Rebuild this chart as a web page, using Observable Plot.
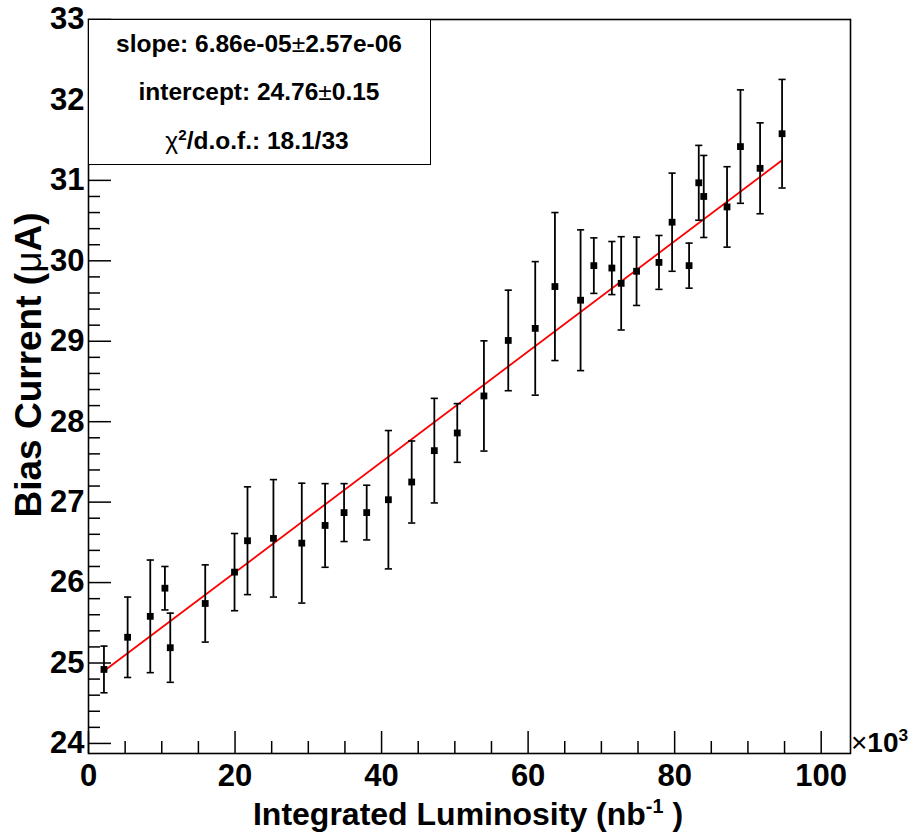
<!DOCTYPE html>
<html>
<head>
<meta charset="utf-8">
<script src="https://cdn.jsdelivr.net/npm/d3@7"></script>
<script src="https://cdn.jsdelivr.net/npm/@observablehq/plot@0.6"></script>
<style>
  html, body { margin: 0; padding: 0; background: #fff; }
  #wrap { position: relative; width: 922px; height: 833px; font-family: "Liberation Sans", Arial, Helvetica, sans-serif; font-weight: bold; color: #000; }
  #wrap svg { position: absolute; left: 0; top: 0; }
  .ov { position: absolute; white-space: nowrap; line-height: 1; }
  .n { font-weight: normal; }
  sup { font-size: 0.62em; line-height: 1; vertical-align: 0; position: relative; top: -0.62em; }
</style>
</head>
<body>
<div id="wrap"></div>
<script>
// ---- data ----
const lumi = [2.11, 5.34, 8.43, 10.43, 11.16, 15.93, 19.93, 21.7, 25.24, 29.11, 32.29, 34.88, 37.97, 40.93, 44.11, 47.2, 50.33, 53.97, 57.29, 60.97, 63.66, 67.16, 68.97, 71.43, 72.7, 74.8, 77.86, 79.65, 81.97, 83.29, 83.97, 87.15, 88.98, 91.66, 94.66];
const current = [24.92, 25.32, 25.58, 25.93, 25.19, 25.74, 26.13, 26.52, 26.55, 26.49, 26.71, 26.87, 26.87, 27.03, 27.25, 27.64, 27.86, 28.32, 29.01, 29.16, 29.68, 29.51, 29.94, 29.91, 29.72, 29.87, 29.98, 30.48, 29.94, 30.97, 30.80, 30.67, 31.42, 31.15, 31.58];
const currentErr = [0.29, 0.50, 0.70, 0.27, 0.43, 0.48, 0.48, 0.67, 0.73, 0.745, 0.52, 0.36, 0.34, 0.86, 0.51, 0.65, 0.365, 0.685, 0.625, 0.83, 0.92, 0.875, 0.345, 0.33, 0.58, 0.425, 0.335, 0.61, 0.28, 0.465, 0.51, 0.50, 0.705, 0.565, 0.675];
const fitX = [2.11, 94.66];
const fitY = [24.90, 31.25];
const xMajorTicks = [0, 20, 40, 60, 80, 100];
const xMinorTicks = [5, 10, 15, 25, 30, 35, 45, 50, 55, 65, 70, 75, 85, 90, 95];
const yMajorTicks = [24, 25, 26, 27, 28, 29, 30, 31, 32, 33];
const yMinorTicks = d3.range(24, 33.001, 0.2).map(v => +v.toFixed(1)).filter(v => !Number.isInteger(v));
const statsLines = ["slope: 6.86e-05", "±", "2.57e-06", "intercept: 24.76", "±", "0.15", "/d.o.f.: 18.1/33"];

const points = lumi.map((x, i) => ({x, y: current[i], lo: current[i] - currentErr[i], hi: current[i] + currentErr[i]}));
const fit = fitX.map((x, i) => ({x, y: fitY[i]}));

const W = 922, H = 833, mT = 19, mB = 80, mL = 88, mR = 72;
const innerH = H - mT - mB, innerW = W - mL - mR;

const capSymbol = { draw(ctx) { ctx.moveTo(-3.6, 0); ctx.lineTo(3.6, 0); } };
const sqSymbol = { draw(ctx) { ctx.rect(-3.4, -3.4, 6.8, 6.8); } };

const chart = Plot.plot({
  width: W, height: H,
  marginTop: mT, marginBottom: mB, marginLeft: mL, marginRight: mR,
  style: { fontFamily: '"Liberation Sans", Arial, sans-serif', fontWeight: "bold", background: "white", color: "black" },
  x: { domain: [0, 104] },
  y: { domain: [23.875, 33] },
  marks: [
    // tick marks drawn inside the frame
    Plot.ruleX(xMajorTicks, { x: d => d, insetTop: innerH - 22, stroke: "black", strokeWidth: 1.5 }),
    Plot.ruleX(xMinorTicks, { x: d => d, insetTop: innerH - 12, stroke: "black", strokeWidth: 1.5 }),
    Plot.ruleY(yMajorTicks, { y: d => d, insetRight: innerW - 23, stroke: "black", strokeWidth: 1.5 }),
    Plot.ruleY(yMinorTicks, { y: d => d, insetRight: innerW - 12, stroke: "black", strokeWidth: 1.5 }),
    Plot.axisX({ ticks: xMajorTicks, tickSize: 0, tickPadding: 10, fontSize: 31, fontWeight: "bold", label: null, tickFormat: d => d }),
    Plot.axisY({ ticks: yMajorTicks, tickSize: 0, tickPadding: 4, fontSize: 31, fontWeight: "bold", label: null, tickFormat: d => d }),
    Plot.frame({ stroke: "black", strokeWidth: 1.6 }),
    // fit line
    Plot.line(fit, { x: "x", y: "y", stroke: "#ff0000", strokeWidth: 1.8 }),
    // error bars
    Plot.ruleX(points, { x: "x", y1: "lo", y2: "hi", stroke: "black", strokeWidth: 1.8 }),
    Plot.dot(points, { x: "x", y: "lo", symbol: capSymbol, stroke: "black", strokeWidth: 1.6, fill: "none" }),
    Plot.dot(points, { x: "x", y: "hi", symbol: capSymbol, stroke: "black", strokeWidth: 1.6, fill: "none" }),
    Plot.dot(points, { x: "x", y: "y", symbol: sqSymbol, fill: "black", stroke: "none" })
  ]
});

const wrap = document.getElementById("wrap");
wrap.appendChild(chart);

function ov(html, css) {
  const d = document.createElement("div");
  d.className = "ov";
  d.innerHTML = html;
  Object.assign(d.style, css);
  wrap.appendChild(d);
  return d;
}

// stats box
ov("", { left: "88px", top: "18.5px", width: "343px", height: "146px", border: "1.6px solid black", background: "white", boxSizing: "border-box" });
ov(`${statsLines[0]}<span class="n">${statsLines[1]}</span>${statsLines[2]}`, { left: "259px", top: "44px", fontSize: "24.5px", transform: "translate(-50%,-50%)" });
ov(`${statsLines[3]}<span class="n">${statsLines[4]}</span>${statsLines[5]}`, { left: "259px", top: "92px", fontSize: "24.5px", transform: "translate(-50%,-50%)" });
ov(`<span class="n">χ</span><sup>2</sup>${statsLines[6]}`, { left: "257px", top: "141px", fontSize: "24.5px", transform: "translate(-50%,-50%)" });

// axis titles
ov(`Integrated Luminosity (nb<sup>-1</sup> )`, { left: "468px", top: "798px", fontSize: "32px", transform: "translateX(-50%)" });
ov(`Bias Current (<span class="n">μ</span>A)`, { left: "28px", top: "365px", fontSize: "37px", transform: "translate(-50%,-50%) rotate(-90deg)" });
// exponent
ov(`<span class="n">×</span>10<sup>3</sup>`, { left: "851px", top: "729px", fontSize: "28px" });
</script>
</body>
</html>
